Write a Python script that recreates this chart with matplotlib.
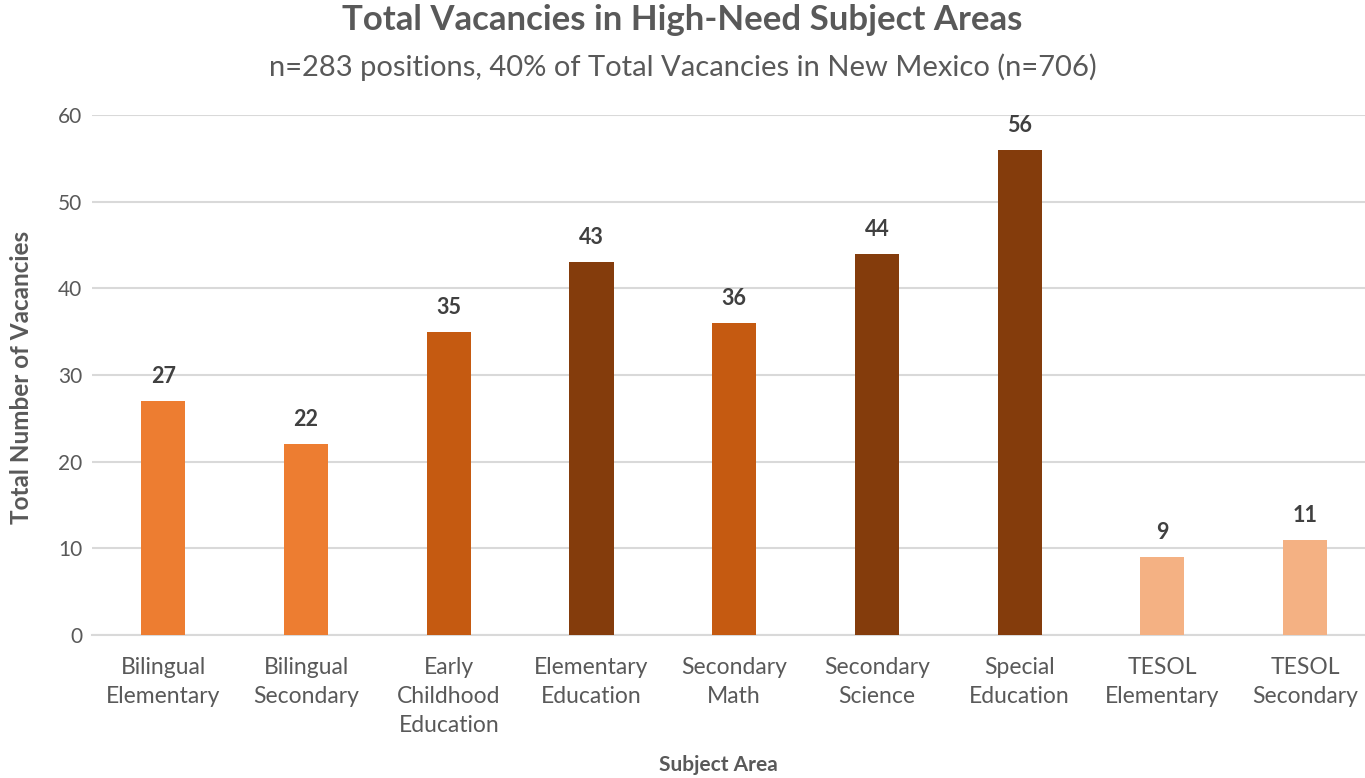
import matplotlib
matplotlib.use("Agg")
import matplotlib.pyplot as plt

categories = ["Bilingual\nElementary", "Bilingual\nSecondary", "Early\nChildhood\nEducation",
              "Elementary\nEducation", "Secondary\nMath", "Secondary\nScience",
              "Special\nEducation", "TESOL\nElementary", "TESOL\nSecondary"]
values = [27, 22, 35, 43, 36, 44, 56, 9, 11]
colors = ["#ED7D31", "#ED7D31", "#C55A11", "#843C0C", "#C55A11", "#843C0C",
          "#843C0C", "#F4B183", "#F4B183"]
yticks = [0, 10, 20, 30, 40, 50, 60]

plt.rcParams['font.family'] = ['Lato', 'DejaVu Sans']

fig = plt.figure(figsize=(13.65, 7.78), dpi=100)
ax = fig.add_axes([92/1365, 1-635/778, (1365-92)/1365, (635-115)/778])

x = list(range(len(categories)))
ax.bar(x, values, width=0.31, color=colors, zorder=3)
for xi, v in zip(x, values):
    ax.text(xi, v + 1.6, str(v), ha='center', va='bottom', fontsize=15.5,
            fontweight='bold', color='#404040')

ax.set_ylim(0, 60)
ax.set_xlim(-0.5, 8.42)
ax.set_yticks(yticks)
ax.yaxis.grid(True, color='#D9D9D9', linewidth=1.5, zorder=0)
ax.set_axisbelow(True)
for s in ['top', 'right', 'left']:
    ax.spines[s].set_visible(False)
ax.spines['bottom'].set_color('#D9D9D9')
ax.spines['bottom'].set_linewidth(1.5)
ax.tick_params(axis='both', length=0, colors='#595959')
ax.tick_params(axis='y', pad=7, labelsize=15)
ax.tick_params(axis='x', pad=16, labelsize=16.5)
ax.set_xticks(x)
ax.set_xticklabels(categories, linespacing=1.45)

fig.text(0.5, 1-20/778, "Total Vacancies in High-Need Subject Areas", ha='center', va='center',
         fontsize=25, fontweight='bold', color='#595959')
fig.text(0.5, 1-67/778, "n=283 positions, 40% of Total Vacancies in New Mexico (n=706)", ha='center',
         va='center', fontsize=21, color='#595959')
fig.text(22/1365, 1-377/778, "Total Number of Vacancies", rotation=90, ha='center', va='center',
         fontsize=17.5, fontweight='bold', color='#595959')
fig.text(718/1365, 1-765/778, "Subject Area", ha='center', va='center',
         fontsize=15, fontweight='bold', color='#595959')

fig.savefig("out.png", dpi=100)
